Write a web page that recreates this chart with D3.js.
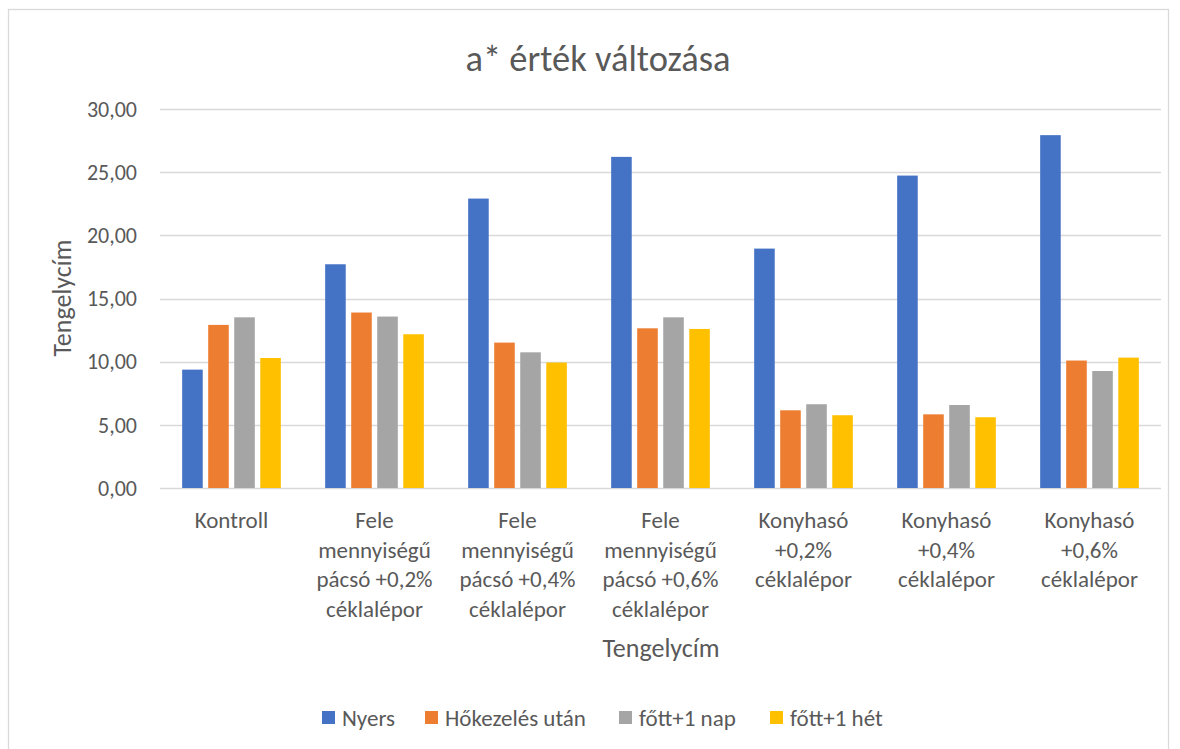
<!DOCTYPE html>
<html>
<head>
<meta charset="utf-8">
<script src="https://cdn.jsdelivr.net/npm/d3@7"></script>
<style>
  body { margin: 0; background: #fff; }
  text { font-family: Carlito, Calibri, Lato, sans-serif; fill: #595959; }
</style>
</head>
<body>
<script>
// chart data
var categories = ["Kontroll", "Fele 0,2", "Fele 0,4", "Fele 0,6", "Konyhasó 0,2", "Konyhasó 0,4", "Konyhasó 0,6"];
var categoryLines = [
  ["Kontroll"],
  ["Fele", "mennyiségű", "pácsó +0,2%", "céklalépor"],
  ["Fele", "mennyiségű", "pácsó +0,4%", "céklalépor"],
  ["Fele", "mennyiségű", "pácsó +0,6%", "céklalépor"],
  ["Konyhasó", "+0,2%", "céklalépor"],
  ["Konyhasó", "+0,4%", "céklalépor"],
  ["Konyhasó", "+0,6%", "céklalépor"]
];
var seriesNames = ["Nyers", "Hőkezelés után", "főtt+1 nap", "főtt+1 hét"];
var seriesColors = ["#4472C4", "#ED7D31", "#A5A5A5", "#FFC000"];
var nyers      = [9.37, 17.71, 22.91, 26.21, 18.95, 24.73, 27.93];
var hokezeles  = [12.91, 13.89, 11.51, 12.64, 6.15, 5.83, 10.09];
var fottNap    = [13.51, 13.57, 10.74, 13.51, 6.63, 6.57, 9.26];
var fottHet    = [10.29, 12.17, 9.93, 12.59, 5.76, 5.60, 10.32];
var yTicks = [0, 5, 10, 15, 20, 25, 30];

var seriesValues = [nyers, hokezeles, fottNap, fottHet];

var W = 1180, H = 749;
var plot = {left: 160, right: 1161, top: 109, bottom: 488};

var svg = d3.select("body").append("svg")
    .attr("width", W)
    .attr("height", H);

// chart frame (bottom edge runs off the picture)
svg.append("rect")
    .attr("x", 8.5).attr("y", 9.5)
    .attr("width", 1160).attr("height", 760)
    .attr("fill", "#fff")
    .attr("stroke", "#D9D9D9")
    .attr("stroke-width", 1.3);

// scales
var x0 = d3.scaleBand().domain(categories)
    .range([plot.left, plot.right])
    .paddingInner(0.31).paddingOuter(0.155);
var x1 = d3.scaleBand().domain(seriesNames)
    .range([0, x0.bandwidth()])
    .paddingInner(0.21);
var y = d3.scaleLinear().domain([0, 30]).range([plot.bottom, plot.top]);

var fmt = function(d) { return d3.format(".2f")(d).replace(".", ","); };

// gridlines
svg.append("g")
    .selectAll("line")
    .data(yTicks)
    .enter().append("line")
    .attr("x1", plot.left).attr("x2", plot.right)
    .attr("y1", function(d) { return Math.round(y(d)) + 0.5; })
    .attr("y2", function(d) { return Math.round(y(d)) + 0.5; })
    .attr("stroke", "#D9D9D9")
    .attr("stroke-width", 1.5);

// y axis labels
svg.append("g")
    .selectAll("text")
    .data(yTicks)
    .enter().append("text")
    .attr("x", 137)
    .attr("y", function(d) { return y(d); })
    .attr("dy", "0.35em")
    .attr("text-anchor", "end")
    .style("font-size", "22px")
    .text(fmt);

// bars
var groups = svg.append("g")
    .selectAll("g")
    .data(categories)
    .enter().append("g")
    .attr("transform", function(d) { return "translate(" + x0(d) + ",0)"; });

groups.selectAll("rect")
    .data(function(d, i) {
      return seriesNames.map(function(s, j) { return {s: s, v: seriesValues[j][i], c: seriesColors[j]}; });
    })
    .enter().append("rect")
    .attr("x", function(d) { return x1(d.s); })
    .attr("y", function(d) { return y(d.v); })
    .attr("width", x1.bandwidth())
    .attr("height", function(d) { return y(0) - y(d.v); })
    .attr("fill", function(d) { return d.c; });

// category labels
var catLabels = svg.append("g")
    .selectAll("text")
    .data(categories)
    .enter().append("text")
    .attr("x", function(d) { return x0(d) + x0.bandwidth() / 2; })
    .attr("y", 528)
    .attr("text-anchor", "middle")
    .style("font-size", "23px");

catLabels.selectAll("tspan")
    .data(function(d, i) { return categoryLines[i]; })
    .enter().append("tspan")
    .attr("x", function() { return d3.select(this.parentNode).attr("x"); })
    .attr("dy", function(d, i) { return i == 0 ? 0 : 29.5; })
    .text(function(d) { return d; });

// title
svg.append("text")
    .attr("x", 598).attr("y", 71)
    .attr("text-anchor", "middle")
    .style("font-size", "36.5px")
    .text("a* érték változása");

// axis titles
svg.append("text")
    .attr("x", 661).attr("y", 648)
    .attr("dy", "0.35em")
    .attr("text-anchor", "middle")
    .style("font-size", "26px")
    .text("Tengelycím");

svg.append("text")
    .attr("transform", "translate(62,298) rotate(-90)")
    .attr("dy", "0.35em")
    .attr("text-anchor", "middle")
    .style("font-size", "26px")
    .text("Tengelycím");

// legend
var legendX = [322, 425, 619, 770];
var legend = svg.append("g")
    .selectAll("g")
    .data(seriesNames)
    .enter().append("g")
    .attr("transform", function(d, i) { return "translate(" + legendX[i] + ",711)"; });

legend.append("rect")
    .attr("width", 13).attr("height", 13)
    .attr("fill", function(d, i) { return seriesColors[i]; });

legend.append("text")
    .attr("x", 20).attr("y", 6.5)
    .attr("dy", "0.35em")
    .style("font-size", "23px")
    .text(function(d) { return d; });
</script>
</body>
</html>
